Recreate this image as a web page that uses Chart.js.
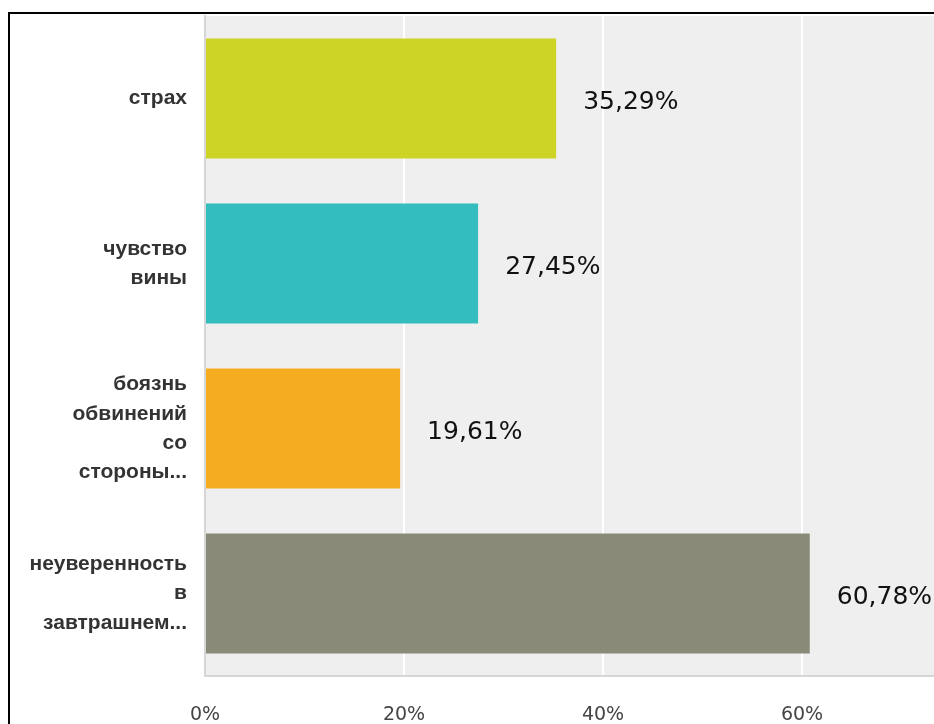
<!DOCTYPE html>
<html>
<head>
<meta charset="utf-8">
<script src="https://cdn.jsdelivr.net/npm/chart.js@4"></script>
<style>
  html, body { margin: 0; padding: 0; background: #fff; overflow: hidden; width: 934px; height: 724px; }
  #wrap { position: absolute; left: 0; top: 0; }
  #frame { position: absolute; left: 8px; top: 12px; width: 1200px; height: 1000px;
           border-top: 2px solid #000; border-left: 2px solid #000; pointer-events: none; }
</style>
</head>
<body>
<div id="wrap"><canvas id="myChart" width="1010" height="724"></canvas></div>
<div id="frame"></div>
<script>
// answers (wrapped the same way as on the picture)
let categories = [
  ["страх"],
  ["чувство", "вины"],
  ["боязнь", "обвинений", "со", "стороны..."],
  ["неуверенность", "в", "завтрашнем..."],
];
let percents = [35.29, 27.45, 19.61, 60.78];
let valueLabels = ["35,29%", "27,45%", "19,61%", "60,78%"];
let barColors = ["#ced425", "#33bdbf", "#f5ad1f", "#898a78"];
let tickValues = [0, 20, 40, 60, 80];

// grey plot background
const plotBg = {
  id: "plotBg",
  beforeDraw(chart) {
    const a = chart.chartArea;
    const c = chart.ctx;
    c.save();
    c.fillStyle = "#efefef";
    c.fillRect(a.left, a.top, a.right - a.left, a.bottom - a.top);
    c.restore();
  },
};

// value text to the right of each bar
const barValues = {
  id: "barValues",
  afterDatasetsDraw(chart) {
    const c = chart.ctx;
    const meta = chart.getDatasetMeta(0);
    c.save();
    c.font = "25px 'DejaVu Sans'";
    c.fillStyle = "#111";
    c.textAlign = "left";
    c.textBaseline = "alphabetic";
    meta.data.forEach((bar, i) => {
      c.fillText(valueLabels[i], bar.x + 27, bar.y + 10);
    });
    c.restore();
  },
};

const ctx = document.getElementById("myChart");
new Chart(ctx, {
  type: "bar",
  data: {
    labels: categories,
    datasets: [
      {
        data: percents,
        backgroundColor: barColors,
        borderWidth: 0,
        barPercentage: 0.727,
        categoryPercentage: 1,
      },
    ],
  },
  options: {
    indexAxis: "y",
    responsive: false,
    animation: false,
    layout: { padding: { top: 16, right: 9, left: 0, bottom: 0 } },
    plugins: {
      legend: { display: false },
      tooltip: { enabled: false },
    },
    scales: {
      x: {
        min: 0,
        max: 80,
        afterFit(scale) {
          scale.height = 48;
          scale.paddingLeft = 0;
          scale.paddingRight = 0;
        },
        afterBuildTicks(scale) { scale.ticks = tickValues.map((v) => ({ value: v })); },
        grid: { color: "#ffffff", lineWidth: 2, drawTicks: false },
        border: { color: "#d6d6d6", width: 2 },
        ticks: {
          padding: 28,
          color: "#444",
          font: { family: "DejaVu Sans", size: 19 },
          callback: (v) => v + "%",
          maxRotation: 0,
          autoSkip: false,
        },
      },
      y: {
        afterFit(scale) {
          scale.width = 205;
          scale.paddingTop = 0;
          scale.paddingBottom = 0;
        },
        grid: { display: false, drawTicks: false },
        border: { color: "#d6d6d6", width: 2 },
        ticks: {
          padding: 18,
          color: "#333",
          font: { family: "Liberation Sans", size: 21, weight: "bold", lineHeight: 1.4 },
          autoSkip: false,
        },
      },
    },
  },
  plugins: [plotBg, barValues],
});
</script>
</body>
</html>
